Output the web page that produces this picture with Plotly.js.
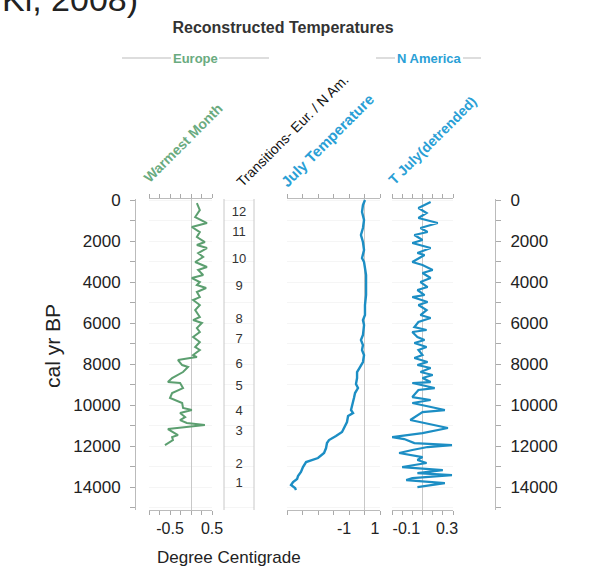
<!DOCTYPE html>
<html>
<head>
<meta charset="utf-8">
<script src="https://cdn.plot.ly/plotly-3.0.1.min.js"></script>
<style>html,body{margin:0;padding:0;background:#fff;}#chart{width:605px;height:566px;}</style>
</head>
<body>
<div id="chart"></div>
<script>
// Europe – warmest month temperature (deg C) vs cal yr BP
const euYears = [146,488,829,1122,1317,1561,1805,2049,2195,2341,2585,2780,3024,3268,3415,3659,3805,4000,4146,4293,4488,4732,4878,5122,5366,5707,5854,6000,6244,6439,6683,6927,7171,7317,7561,7659,7707,7805,8049,8146,8390,8683,8878,8927,9171,9415,9659,9902,10146,10244,10390,10585,10732,10878,10976,11073,11122,11171,11463,11561,11707,11951];
const euTemp  = [0.14,0.21,0.10,0.38,0.02,0.21,0.14,0.33,0.14,0.38,0.17,0.29,0.10,0.38,0.17,0.29,0.02,0.21,0.14,0.36,0.14,0.21,0.05,0.21,0.10,0.21,0.05,0.26,0.14,0.21,0.05,0.21,0.10,0.21,0.05,0.14,-0.02,-0.31,-0.21,-0.07,-0.19,-0.45,-0.55,-0.26,-0.19,-0.45,-0.50,-0.21,-0.19,0.02,-0.26,-0.14,-0.26,-0.10,0.33,-0.10,-0.21,-0.55,-0.31,-0.45,-0.43,-0.62];

// Transitions (Europe / N America)
const transLabels = ['12','11','10','9','8','7','6','5','4','3','2','1'];
const transYears  = [634,1610,2927,4244,5854,6829,8049,9122,10341,11317,12927,13854];

// N America – July temperature (deg C)
const naYears = [0,244,585,976,1366,1707,2049,2439,2829,3024,3317,3659,4146,4634,5122,5610,5854,6098,6585,6829,7073,7317,7561,7902,8146,8390,8683,8976,9171,9415,9659,10000,10244,10390,10537,10829,11122,11317,11512,11707,11854,12098,12341,12585,12780,13024,13268,13463,13610,13756,13902,14049,14146];
const naTemp  = [0.03,-0.10,-0.16,-0.03,-0.10,-0.23,-0.10,-0.03,-0.16,-0.03,0.03,0.10,0.10,0.10,0.03,0.03,-0.10,-0.03,-0.10,-0.23,-0.10,-0.16,-0.03,-0.10,-0.29,-0.48,-0.48,-0.55,-0.42,-0.61,-0.68,-0.81,-0.87,-0.74,-1.06,-1.13,-1.32,-1.45,-1.84,-2.29,-2.42,-2.48,-2.61,-3.00,-3.77,-3.97,-4.10,-4.29,-4.35,-4.61,-4.74,-4.48,-4.42];

// N America – T July (detrended)
const detYears = [98,390,634,878,1122,1366,1561,1707,1951,2098,2341,2585,2683,3024,3171,3415,3561,3805,4000,4244,4390,4634,4732,4976,5122,5366,5610,5756,5951,6195,6341,6439,6683,6829,6976,7171,7317,7561,7707,7902,8049,8195,8390,8537,8683,8878,8927,9171,9268,9610,9756,9902,10244,10341,10732,10829,11122,11366,11561,11659,11854,11951,12049,12195,12341,12537,12683,12829,13024,13171,13317,13415,13561,13659,13805,14000];
const detTemp  = [0.08,-0.04,0.04,-0.04,0.15,-0.02,0.05,-0.08,0.00,-0.10,0.08,-0.05,0.02,-0.10,0.00,0.10,0.00,0.08,-0.02,0.05,-0.05,0.02,-0.10,0.05,-0.04,0.04,-0.02,0.08,-0.04,-0.08,0.04,-0.10,-0.05,0.02,-0.08,0.04,-0.04,0.00,-0.08,0.05,-0.05,0.08,-0.02,0.10,0.00,0.08,-0.10,0.12,-0.04,-0.10,0.08,-0.10,0.22,0.00,-0.12,-0.02,0.25,0.00,-0.30,-0.18,-0.08,0.29,0.05,-0.10,-0.23,0.00,-0.05,0.04,-0.20,0.20,-0.05,0.29,-0.10,-0.16,0.22,-0.05];

// Axis ticks
const yTickVals = [0,1000,2000,3000,4000,5000,6000,7000,8000,9000,10000,11000,12000,13000,14000,15000];
const yTickText = ['0','','2000','','4000','','6000','','8000','','10000','','12000','','14000',''];
const euTickVals = [-1,-0.75,-0.5,-0.25,0,0.25,0.5];
const euTickText = ['','','-0.5','','','','0.5'];
const naTickVals = [-5,-4,-3,-2,-1,0,1];
const naTickText = ['','','','','-1','','1'];
const detTickVals = [-0.3,-0.2,-0.1,0,0.1,0.2,0.3];
const detTickText = ['','','-0.1','','','','0.3'];

const W = 605, H = 566;
const px = v => v / W;
const py = v => 1 - v / H;
const FONT = 'Liberation Sans, Arial, sans-serif';
const GREEN = '#5c9f70';
const BLUE = '#1c8ec4';
const BLUE_T = '#2a9fd6';
const GREEN_T = '#6aab80';

const traces = [
  {x: euTemp, y: euYears, xaxis: 'x', yaxis: 'y', mode: 'lines', line: {color: GREEN, width: 2}, hoverinfo: 'skip'},
  {x: transYears.map(() => 0.5), y: transYears, text: transLabels, xaxis: 'x2', yaxis: 'y', mode: 'text',
   textfont: {family: FONT, size: 13, color: '#333'}, hoverinfo: 'skip'},
  {x: naTemp, y: naYears, xaxis: 'x3', yaxis: 'y', mode: 'lines', line: {color: BLUE, width: 2.4}, hoverinfo: 'skip'},
  {x: detTemp, y: detYears, xaxis: 'x4', yaxis: 'y', mode: 'lines', line: {color: BLUE, width: 2.2}, hoverinfo: 'skip'},
  {x: detTemp, y: detYears, xaxis: 'x4', yaxis: 'y2', mode: 'lines', line: {color: 'rgba(0,0,0,0)', width: 0}, hoverinfo: 'skip', showlegend: false}
];

const xCommon = {
  ticks: 'outside', ticklen: 4, tickcolor: '#aaa', showline: true, linecolor: '#bbb', linewidth: 1,
  mirror: 'ticks', zeroline: true, zerolinecolor: '#c8c8c8', zerolinewidth: 1, showgrid: false,
  anchor: 'y', tickmode: 'array', tickfont: {family: FONT, size: 16, color: '#222'}, fixedrange: true
};
const yCommon = {
  domain: [py(510), py(199)], range: [15120, -50], showline: true, linecolor: '#bbb', linewidth: 1,
  ticks: 'outside', ticklen: 5, tickcolor: '#aaa', tickmode: 'array', tickvals: yTickVals, ticktext: yTickText,
  tickfont: {family: FONT, size: 17, color: '#222'}, zeroline: false, anchor: 'free', fixedrange: true
};

const layout = {
  width: W, height: H, margin: {l: 0, r: 0, t: 0, b: 0},
  paper_bgcolor: '#fff', plot_bgcolor: '#fff', showlegend: false,
  font: {family: FONT, color: '#222'},
  title: {text: '<b>Reconstructed Temperatures</b>', x: px(283), xanchor: 'center', y: py(27), yanchor: 'middle',
          font: {family: FONT, size: 16, color: '#333'}},
  xaxis: Object.assign({}, xCommon, {domain: [px(149), px(212)], range: [-1, 0.5], tickvals: euTickVals, ticktext: euTickText}),
  xaxis2: {domain: [px(224), px(254)], range: [0, 1], visible: false, anchor: 'y', fixedrange: true},
  xaxis3: Object.assign({}, xCommon, {domain: [px(287), px(380)], range: [-5, 1], tickvals: naTickVals, ticktext: naTickText, ticklabelshift: -5}),
  xaxis4: Object.assign({}, xCommon, {domain: [px(392), px(453)], range: [-0.3, 0.3], tickvals: detTickVals, ticktext: detTickText, ticklabelshift: -6}),
  yaxis: Object.assign({}, yCommon, {position: px(135), side: 'left', showgrid: true, gridcolor: '#f5f5f5', ticklabelstandoff: 6}),
  yaxis2: Object.assign({}, yCommon, {position: px(495), side: 'right', overlaying: 'y', showgrid: false, ticklabelstandoff: 6}),
  shapes: [
    {type: 'line', xref: 'x2 domain', yref: 'paper', x0: 0, x1: 0, y0: py(510), y1: py(199), line: {color: '#c8c8c8', width: 1}},
    {type: 'line', xref: 'x2 domain', yref: 'paper', x0: 1, x1: 1, y0: py(510), y1: py(199), line: {color: '#c8c8c8', width: 1}},
    {type: 'line', xref: 'paper', yref: 'paper', x0: px(122), x1: px(171), y0: py(58), y1: py(58), line: {color: '#bbb', width: 1}},
    {type: 'line', xref: 'paper', yref: 'paper', x0: px(219), x1: px(269), y0: py(58), y1: py(58), line: {color: '#bbb', width: 1}},
    {type: 'line', xref: 'paper', yref: 'paper', x0: px(376), x1: px(395), y0: py(58), y1: py(58), line: {color: '#bbb', width: 1}},
    {type: 'line', xref: 'paper', yref: 'paper', x0: px(463), x1: px(481), y0: py(58), y1: py(58), line: {color: '#bbb', width: 1}}
  ],
  annotations: [
    {text: 'Kl, 2008)', xref: 'paper', yref: 'paper', x: 0, y: py(20), xanchor: 'left', yanchor: 'bottom', showarrow: false,
     font: {family: FONT, size: 34, color: '#222'}},
    {text: '<b>Europe</b>', xref: 'paper', yref: 'paper', x: px(195), y: py(58), xanchor: 'center', yanchor: 'middle', showarrow: false,
     font: {family: FONT, size: 13, color: GREEN_T}},
    {text: '<b>N America</b>', xref: 'paper', yref: 'paper', x: px(429), y: py(58), xanchor: 'center', yanchor: 'middle', showarrow: false,
     font: {family: FONT, size: 13, color: BLUE_T}},
    {text: '<b>Warmest Month</b>', xref: 'paper', yref: 'paper', x: px(183), y: py(143), xanchor: 'center', yanchor: 'middle', textangle: -45, showarrow: false,
     font: {family: FONT, size: 14, color: GREEN_T}},
    {text: 'Transitions- Eur. / N Am.', xref: 'paper', yref: 'paper', x: px(292), y: py(131), xanchor: 'center', yanchor: 'middle', textangle: -45, showarrow: false,
     font: {family: FONT, size: 14, color: '#111'}},
    {text: '<b>July Temperature</b>', xref: 'paper', yref: 'paper', x: px(327), y: py(140), xanchor: 'center', yanchor: 'middle', textangle: -45, showarrow: false,
     font: {family: FONT, size: 15, color: BLUE_T}},
    {text: '<b>T July(detrended)</b>', xref: 'paper', yref: 'paper', x: px(432), y: py(141), xanchor: 'center', yanchor: 'middle', textangle: -45, showarrow: false,
     font: {family: FONT, size: 14, color: BLUE_T}},
    {text: 'Degree Centigrade', xref: 'paper', yref: 'paper', x: px(229), y: py(557), xanchor: 'center', yanchor: 'middle', showarrow: false,
     font: {family: FONT, size: 17, color: '#222'}},
    {text: 'cal yr BP', xref: 'paper', yref: 'paper', x: px(52), y: py(346), xanchor: 'center', yanchor: 'middle', textangle: -90, showarrow: false,
     font: {family: FONT, size: 21, color: '#222'}}
  ]
};

Plotly.newPlot('chart', traces, layout, {displayModeBar: false, staticPlot: true});
</script>
</body>
</html>
